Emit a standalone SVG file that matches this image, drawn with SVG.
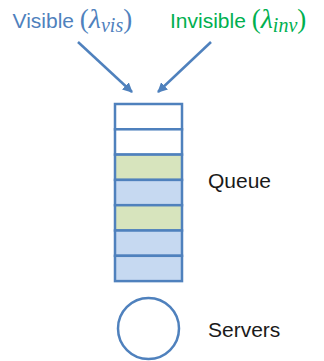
<svg xmlns="http://www.w3.org/2000/svg" width="324" height="361" viewBox="0 0 324 361">
<defs>
<style>
.lbl{font-family:"Liberation Sans",Arial,sans-serif;font-size:21px;fill:#1a1a1a}
.m{font-family:"Liberation Serif","DejaVu Serif",serif;font-style:italic}
.p{font-family:"Liberation Serif","DejaVu Serif",serif;font-size:27px}
.vis{fill:#4F81BD}
.inv{fill:#00B050}
.cell{stroke:#4F81BD;stroke-width:2.5}
.e{fill:#FFFFFF}
.g{fill:#D7E4BD}
.b{fill:#C6D9F1}
.conn{stroke:#4F81BD;stroke-width:2.5;fill:none}
</style>
<marker id="ah" viewBox="0 0 10 10" refX="9" refY="5" markerWidth="4" markerHeight="4" orient="auto" markerUnits="strokeWidth">
<path d="M0,0 L10,5 L0,10 z" fill="#4F81BD"/>
</marker>
</defs>
<g id="label-visible">
<text class="lbl vis" x="12.5" y="28">Visible <tspan class="p">(</tspan><tspan class="m" font-size="28">λ</tspan><tspan class="m" font-size="20" dy="4">vis</tspan><tspan class="p" dy="-4">)</tspan></text>
</g>
<g id="label-invisible">
<text class="lbl inv" x="170" y="28">Invisible <tspan class="p">(</tspan><tspan class="m" font-size="28">λ</tspan><tspan class="m" font-size="20" dy="4">inv</tspan><tspan class="p" dy="-4">)</tspan></text>
</g>
<g id="connectors">
<line class="conn" x1="78" y1="42" x2="132" y2="92" marker-end="url(#ah)"/>
<line class="conn" x1="211" y1="42" x2="158" y2="92" marker-end="url(#ah)"/>
</g>
<g id="queue">
<rect class="cell e" x="115" y="104" width="67" height="25.3"/>
<rect class="cell e" x="115" y="129.3" width="67" height="25.3"/>
<rect class="cell g" x="115" y="154.6" width="67" height="25.3"/>
<rect class="cell b" x="115" y="179.9" width="67" height="25.3"/>
<rect class="cell g" x="115" y="205.2" width="67" height="25.3"/>
<rect class="cell b" x="115" y="230.5" width="67" height="25.3"/>
<rect class="cell b" x="115" y="255.8" width="67" height="25.3"/>
<text class="lbl" x="208" y="188">Queue</text>
</g>
<g id="servers">
<circle cx="148.5" cy="328.5" r="30.5" fill="#FFFFFF" stroke="#4F81BD" stroke-width="2.5"/>
<text class="lbl" x="208" y="337">Servers</text>
</g>
</svg>
